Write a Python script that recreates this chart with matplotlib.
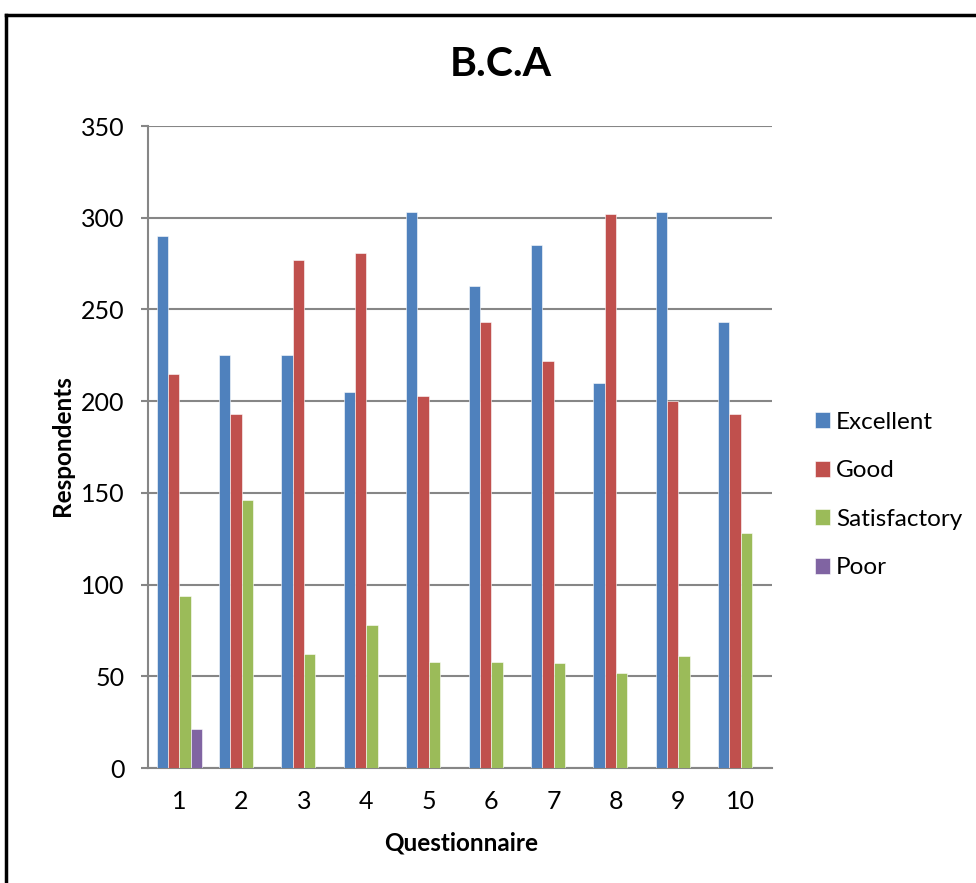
import matplotlib.pyplot as plt
from matplotlib.lines import Line2D
import numpy as np

plt.rcParams['font.family'] = ['Lato', 'DejaVu Sans']

questions = ['1', '2', '3', '4', '5', '6', '7', '8', '9', '10']
excellent = [290, 225, 225, 205, 303, 263, 285, 210, 303, 243]
good = [215, 193, 277, 281, 203, 243, 222, 302, 200, 193]
satisfactory = [94, 146, 62, 78, 58, 58, 57, 52, 61, 128]
poor = [21, 0, 0, 0, 0, 0, 0, 0, 0, 0]

series = [('Excellent', excellent, '#4F81BD'),
          ('Good', good, '#C0504D'),
          ('Satisfactory', satisfactory, '#9BBB59'),
          ('Poor', poor, '#8064A2')]

W, H = 976, 883
fig = plt.figure(figsize=(W / 100, H / 100), dpi=100)
ax = fig.add_axes([148 / W, 1 - 768 / H, (772 - 148) / W, (768 - 126) / H])

x = np.arange(len(questions))
w = 1 / 5.5
for i, (name, vals, col) in enumerate(series):
    ax.bar(x + (i - 1.5) * w, vals, w, color=col, label=name,
           edgecolor='white', linewidth=0.4, zorder=3)

ax.set_xlim(-0.5, len(questions) - 0.5)
ax.set_ylim(0, 350)
ax.set_yticks(np.arange(0, 351, 50))
ax.set_xticks(x)
ax.set_xticklabels(questions)
ax.grid(axis='y', color='#868686', linewidth=1.5, zorder=0)
ax.tick_params(axis='y', length=5, width=1.5, color='#868686', labelsize=18, pad=12)
ax.tick_params(axis='x', length=0, labelsize=18, pad=16)
for s in ['top', 'right']:
    ax.spines[s].set_visible(False)
for s in ['left', 'bottom']:
    ax.spines[s].set_color('#868686')
    ax.spines[s].set_linewidth(1.5)

fig.text(501 / W, 1 - 64 / H, 'B.C.A', ha='center', va='center',
         fontsize=29.5, fontweight='bold')
fig.text(62 / W, 1 - 446 / H, 'Respondents', ha='center', va='center',
         rotation=90, fontsize=17.5, fontweight='bold')
fig.text(461 / W, 1 - 843 / H, 'Questionnaire', ha='center', va='center',
         fontsize=17.5, fontweight='bold')

fig.legend(loc='center left', bbox_to_anchor=(815 / W, 1 - 495 / H),
           frameon=False, fontsize=17.5, handlelength=0.62, handleheight=0.62,
           handletextpad=0.25, labelspacing=1.13, borderpad=0, borderaxespad=0)

# outer frame
fig.add_artist(Line2D([5.5 / W, 5.5 / W], [0, 1 - 14.5 / H], color='black', lw=2.5))
fig.add_artist(Line2D([5.5 / W, 1], [1 - 14.5 / H, 1 - 14.5 / H], color='black', lw=2.5))

fig.savefig('out.png', dpi=100)
